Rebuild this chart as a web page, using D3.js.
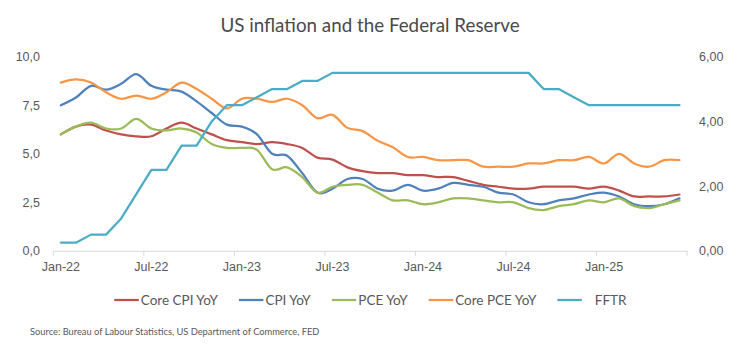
<!DOCTYPE html>
<html>
<head>
<meta charset="utf-8">
<script src="https://cdn.jsdelivr.net/npm/d3@7"></script>
<style>
  html, body { margin: 0; padding: 0; background: #fff; }
  svg { display: block; font-family: Lato, "Open Sans", sans-serif; }
</style>
</head>
<body>
<svg id="chart" width="756" height="356"></svg>
<script>
// ---------- data ----------
const categories = [
  "2022-01","2022-02","2022-03","2022-04","2022-05","2022-06","2022-07","2022-08","2022-09","2022-10","2022-11","2022-12",
  "2023-01","2023-02","2023-03","2023-04","2023-05","2023-06","2023-07","2023-08","2023-09","2023-10","2023-11","2023-12",
  "2024-01","2024-02","2024-03","2024-04","2024-05","2024-06","2024-07","2024-08","2024-09","2024-10","2024-11","2024-12",
  "2025-01","2025-02","2025-03","2025-04","2025-05","2025-06"
];
const tickLabels = ["Jan-22","Jul-22","Jan-23","Jul-23","Jan-24","Jul-24","Jan-25"];
const leftTicks = [0, 2.5, 5, 7.5, 10];
const rightTicks = [0, 2, 4, 6];

const coreCPI = [6.0,6.4,6.5,6.2,6.0,5.9,5.9,6.3,6.6,6.3,6.0,5.7,
                 5.6,5.5,5.6,5.5,5.3,4.8,4.7,4.3,4.1,4.0,4.0,3.9,
                 3.9,3.8,3.8,3.6,3.4,3.3,3.2,3.2,3.3,3.3,3.3,3.2,
                 3.3,3.1,2.8,2.8,2.8,2.9];
const cpi     = [7.5,7.9,8.5,8.3,8.6,9.1,8.5,8.3,8.2,7.7,7.1,6.5,
                 6.4,6.0,5.0,4.9,4.0,3.0,3.2,3.7,3.7,3.2,3.1,3.4,
                 3.1,3.2,3.5,3.4,3.3,3.0,2.9,2.5,2.4,2.6,2.7,2.9,
                 3.0,2.8,2.4,2.3,2.4,2.7];
const pce     = [6.0,6.4,6.6,6.3,6.3,6.8,6.3,6.2,6.3,6.1,5.5,5.3,
                 5.3,5.2,4.2,4.3,3.8,3.0,3.3,3.4,3.4,3.0,2.6,2.6,
                 2.4,2.5,2.7,2.7,2.6,2.5,2.5,2.2,2.1,2.3,2.4,2.6,
                 2.5,2.7,2.3,2.2,2.4,2.6];
const corePCE = [5.2,5.3,5.2,4.9,4.7,4.8,4.7,4.9,5.2,5.0,4.7,4.4,
                 4.7,4.7,4.6,4.7,4.5,4.1,4.2,3.8,3.7,3.4,3.2,2.9,
                 2.9,2.8,2.8,2.8,2.6,2.6,2.6,2.7,2.7,2.8,2.8,2.9,
                 2.7,3.0,2.7,2.6,2.8,2.8];
const fftr    = [0.25,0.25,0.5,0.5,1.0,1.75,2.5,2.5,3.25,3.25,4.0,4.5,
                 4.5,4.75,5.0,5.0,5.25,5.25,5.5,5.5,5.5,5.5,5.5,5.5,
                 5.5,5.5,5.5,5.5,5.5,5.5,5.5,5.5,5.0,5.0,4.75,4.5,
                 4.5,4.5,4.5,4.5,4.5,4.5];

const seriesNames = ["Core CPI YoY","CPI YoY","PCE YoY","Core PCE YoY","FFTR"];
const seriesValues = [coreCPI, cpi, pce, corePCE, fftr];
const seriesAxis = ["left","left","left","right","right"];

const titleText = "US inflation and the Federal Reserve";
const sourceText = "Source: Bureau of Labour Statistics, US Department of Commerce, FED";

// ---------- styles ----------
const colors = ["#C0504D","#4F81BD","#9BBB59","#F79646","#4BACC6"];
const smooth = [true, true, true, true, false];
const textColor = "#595959";
const titleColor = "#4a4a4a";

const svg = d3.select("#chart");
const plot = { left: 53.3, right: 687, top: 56.7, bottom: 250.8 };

const x = d3.scaleBand().domain(categories).range([plot.left, plot.right]).padding(0);
const xc = c => x(c) + x.bandwidth() / 2;
const yL = d3.scaleLinear().domain([0, 10]).range([plot.bottom, plot.top]);
const yR = d3.scaleLinear().domain([0, 6]).range([plot.bottom, plot.top]);

// title
svg.append("text")
  .attr("x", 370).attr("y", 32)
  .attr("text-anchor", "middle")
  .attr("font-size", 18.8)
  .attr("fill", titleColor)
  .text(titleText);

// left axis
const gL = svg.append("g").attr("transform", `translate(40,0)`)
  .call(d3.axisLeft(yL).tickValues(leftTicks).tickSize(0).tickPadding(0)
    .tickFormat(d => d.toFixed(1).replace(".", ",")));
gL.select(".domain").remove();
gL.selectAll("text").attr("font-size", 12.5).attr("fill", textColor).attr("font-family", null);

// right axis
const gR = svg.append("g").attr("transform", `translate(699,0)`)
  .call(d3.axisRight(yR).tickValues(rightTicks).tickSize(0).tickPadding(0)
    .tickFormat(d => d.toFixed(2).replace(".", ",")));
gR.select(".domain").remove();
gR.selectAll("text").attr("font-size", 12.5).attr("fill", textColor).attr("font-family", null);

// bottom axis: labels centered on categories, ticks at category boundaries
const labelCats = categories.filter((c, i) => i % 6 === 0);
const labelMap = new Map(labelCats.map((c, i) => [c, tickLabels[i]]));
const gX = svg.append("g").attr("transform", `translate(0,${plot.bottom})`)
  .call(d3.axisBottom(x).tickValues(labelCats).tickSize(0).tickPadding(0)
    .tickFormat(c => labelMap.get(c)));
gX.select(".domain").attr("stroke", "#D9D9D9").attr("stroke-width", 1);
gX.selectAll("text").attr("font-size", 12.5).attr("fill", textColor)
  .attr("font-family", null).attr("dy", "1.6em");
const boundaries = labelCats.map(c => x(c)).concat([plot.right]);
svg.append("g").selectAll("line").data(boundaries).join("line")
  .attr("x1", d => d).attr("x2", d => d)
  .attr("y1", plot.bottom).attr("y2", plot.bottom + 5)
  .attr("stroke", "#D9D9D9").attr("stroke-width", 1);

// lines
seriesValues.forEach((vals, s) => {
  const ys = seriesAxis[s] === "left" ? yL : yR;
  const line = d3.line()
    .x((d, i) => xc(categories[i]))
    .y(d => ys(d))
    .curve(smooth[s] ? d3.curveCardinal.tension(0) : d3.curveLinear);
  svg.append("path")
    .datum(vals)
    .attr("d", line)
    .attr("fill", "none")
    .attr("stroke", colors[s])
    .attr("stroke-width", 2.25)
    .attr("stroke-linejoin", "round")
    .attr("stroke-linecap", "round");
});

// legend
const legendY = 300;
const lineLen = 24.5, textGap = 2, itemGap = 21;
const extraOffset = [0, 0, 0, 0, 11];
const lg = svg.append("g");
const items = seriesNames.map((name, i) => {
  const g = lg.append("g");
  g.append("line").attr("x1", 0).attr("x2", lineLen).attr("y1", 0).attr("y2", 0)
    .attr("stroke", colors[i]).attr("stroke-width", 2.25);
  const t = g.append("text").attr("x", lineLen + textGap + extraOffset[i]).attr("y", 0)
    .attr("dy", "0.35em").attr("font-size", 13.5).attr("fill", textColor).text(name);
  return { g, w: lineLen + textGap + extraOffset[i] + t.node().getComputedTextLength() };
});
const total = d3.sum(items, d => d.w) + itemGap * (items.length - 1);
let cx = 370.4 - total / 2;
items.forEach(it => {
  it.g.attr("transform", `translate(${cx},${legendY})`);
  cx += it.w + itemGap;
});

// source
svg.append("text")
  .attr("x", 30).attr("y", 335)
  .attr("font-size", 9.3)
  .attr("fill", textColor)
  .text(sourceText);
</script>
</body>
</html>
